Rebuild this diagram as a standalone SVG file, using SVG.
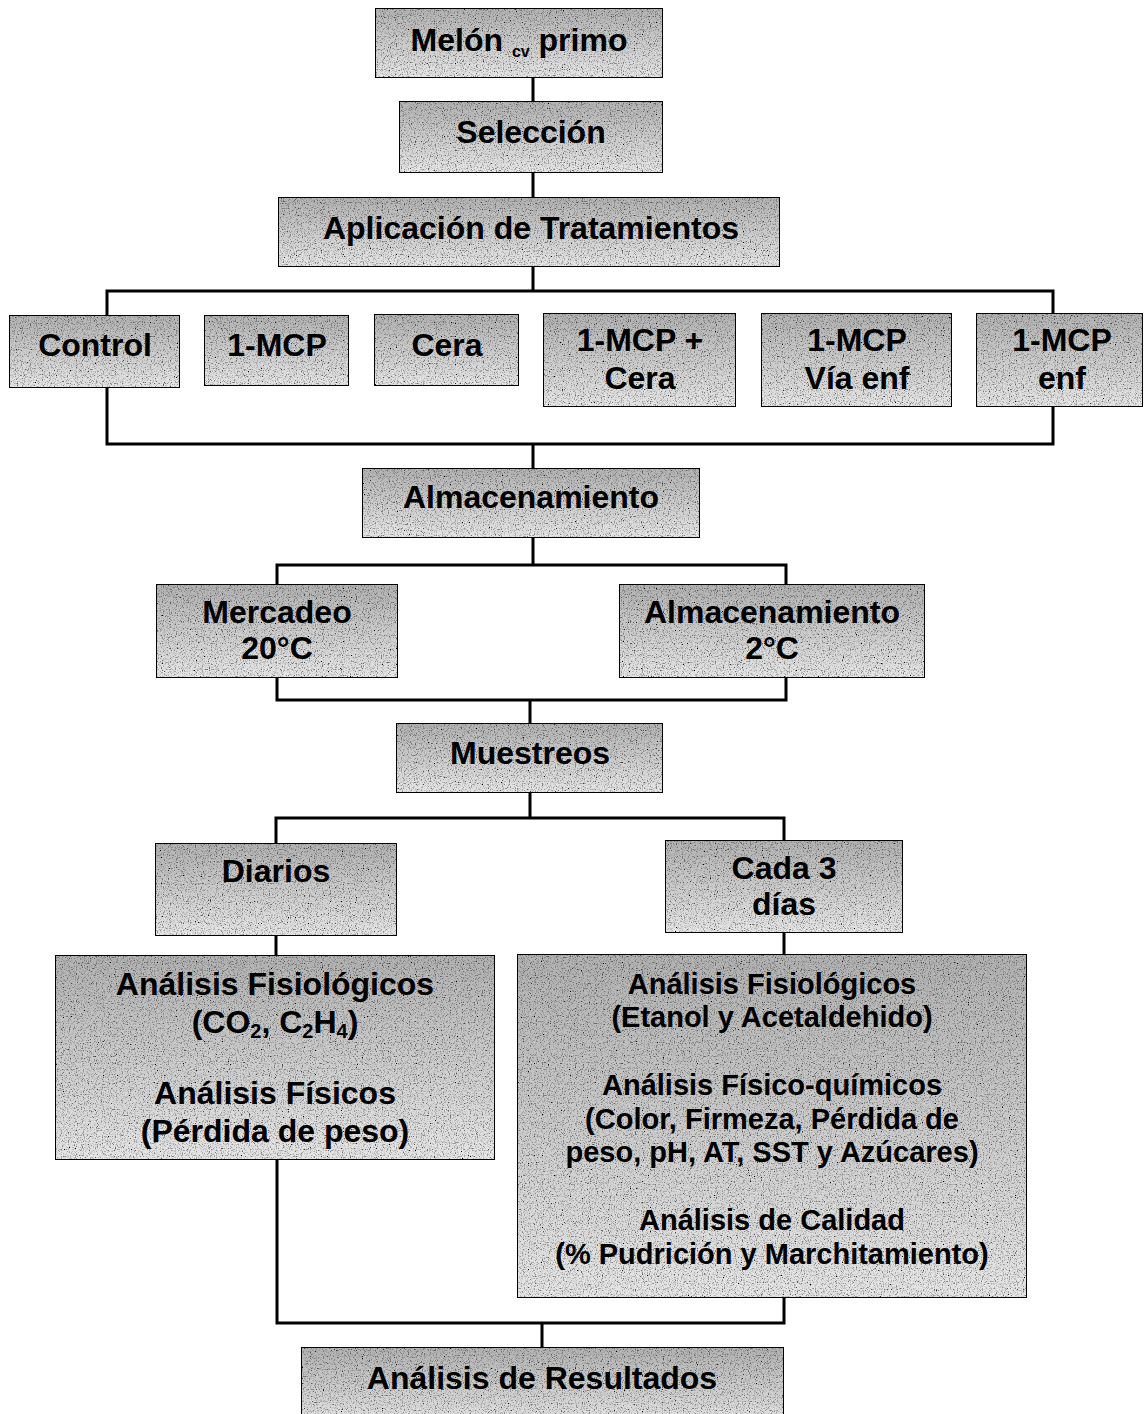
<svg xmlns="http://www.w3.org/2000/svg" width="1145" height="1414" viewBox="0 0 1145 1414">
<defs>
<linearGradient id="g" x1="0" y1="0" x2="0" y2="1">
<stop offset="0" stop-color="#b2b2b2"/>
<stop offset="1" stop-color="#e6e6e6"/>
</linearGradient>
<filter id="grain" x="0" y="0" width="100%" height="100%">
<feTurbulence type="fractalNoise" baseFrequency="0.85" numOctaves="2" seed="4" result="n"/>
<feColorMatrix in="n" type="matrix" values="0 0 0 0 0  0 0 0 0 0  0 0 0 0 0  0 0 0 -3 1.5" result="dots"/>
<feComposite in="dots" in2="SourceGraphic" operator="in" result="d2"/>
<feMerge><feMergeNode in="SourceGraphic"/><feMergeNode in="d2"/></feMerge>
</filter>
</defs>
<style>
.box{fill:url(#g);stroke:#000;stroke-width:2;filter:url(#grain)}
.t{font-family:"Liberation Sans",Arial,sans-serif;font-weight:bold;font-size:32px;fill:#000;text-anchor:middle}
.s{font-size:29px}
.c{fill:none;stroke:#000;stroke-width:3}
</style>
<rect width="1145" height="1414" fill="#fff"/>
<g id="connectors">
<path class="c" d="M533,78V101M533,173V197M533,267V291"/>
<path class="c" d="M107,315V291H1053V313"/>
<path class="c" d="M107,388V444H1053V407M533,444V468"/>
<path class="c" d="M533,538V565M277,584V565H786V584"/>
<path class="c" d="M277,678V700H786V678M530,700V723"/>
<path class="c" d="M530,793V818M276,843V818H784V840"/>
<path class="c" d="M276,936V955M784,933V954"/>
<path class="c" d="M277,1160V1323H784V1298M542,1323V1347"/>
</g>
<g id="n-melon"><rect class="box" x="375" y="8" width="288" height="70"/><text class="t" x="519" y="51">Melón <tspan font-size="16" dy="6">cv</tspan> <tspan dy="-6">primo</tspan></text></g>
<g id="n-seleccion"><rect class="box" x="399" y="101" width="264" height="72"/><text class="t" x="531" y="143">Selección</text></g>
<g id="n-aplicacion"><rect class="box" x="278" y="197" width="502" height="70"/><text class="t" x="531" y="239">Aplicación de Tratamientos</text></g>
<g id="n-control"><rect class="box" x="9" y="315" width="171" height="73"/><text class="t" x="95" y="356">Control</text></g>
<g id="n-1mcp"><rect class="box" x="204" y="315" width="145" height="71"/><text class="t" x="277" y="356">1-MCP</text></g>
<g id="n-cera"><rect class="box" x="374" y="314" width="145" height="72"/><text class="t" x="447" y="356">Cera</text></g>
<g id="n-1mcp-cera"><rect class="box" x="543" y="313" width="193" height="94"/><text class="t" x="640" y="351">1-MCP +</text><text class="t" x="640" y="389">Cera</text></g>
<g id="n-1mcp-via"><rect class="box" x="761" y="313" width="191" height="94"/><text class="t" x="857" y="351">1-MCP</text><text class="t" x="857" y="389">Vía enf</text></g>
<g id="n-1mcp-enf"><rect class="box" x="976" y="313" width="167" height="94"/><text class="t" x="1062" y="351">1-MCP</text><text class="t" x="1062" y="389">enf</text></g>
<g id="n-almacenamiento"><rect class="box" x="362" y="468" width="338" height="70"/><text class="t" x="531" y="508">Almacenamiento</text></g>
<g id="n-mercadeo"><rect class="box" x="156" y="584" width="242" height="94"/><text class="t" x="277" y="623">Mercadeo</text><text class="t" x="277" y="659">20°C</text></g>
<g id="n-alm2"><rect class="box" x="619" y="584" width="306" height="94"/><text class="t" x="772" y="623">Almacenamiento</text><text class="t" x="772" y="659">2°C</text></g>
<g id="n-muestreos"><rect class="box" x="396" y="723" width="267" height="70"/><text class="t" x="530" y="764">Muestreos</text></g>
<g id="n-diarios"><rect class="box" x="155" y="843" width="242" height="93"/><text class="t" x="276" y="882">Diarios</text></g>
<g id="n-cada3"><rect class="box" x="665" y="840" width="238" height="93"/><text class="t" x="784" y="879">Cada 3</text><text class="t" x="784" y="915">días</text></g>
<g id="n-left"><rect class="box" x="55" y="955" width="440" height="205"/>
<text class="t" x="275" y="995">Análisis Fisiológicos</text>
<text class="t" x="275" y="1033">(CO<tspan font-size="20" dy="5">2</tspan><tspan dy="-5">, C</tspan><tspan font-size="20" dy="5">2</tspan><tspan dy="-5">H</tspan><tspan font-size="20" dy="5">4</tspan><tspan dy="-5">)</tspan></text>
<text class="t" x="275" y="1104">Análisis Físicos</text>
<text class="t" x="275" y="1142">(Pérdida de peso)</text></g>
<g id="n-right"><rect class="box" x="517" y="954" width="510" height="344"/>
<text class="t s" x="772" y="994">Análisis Fisiológicos</text>
<text class="t s" x="772" y="1027">(Etanol y Acetaldehido)</text>
<text class="t s" x="772" y="1095">Análisis Físico-químicos</text>
<text class="t s" x="772" y="1129">(Color, Firmeza, Pérdida de</text>
<text class="t s" x="772" y="1162">peso, pH, AT, SST y Azúcares)</text>
<text class="t s" x="772" y="1230">Análisis de Calidad</text>
<text class="t s" x="772" y="1264">(% Pudrición y Marchitamiento)</text></g>
<g id="n-resultados"><rect class="box" x="301" y="1347" width="483" height="80"/><text class="t" x="542" y="1389">Análisis de Resultados</text></g>
</svg>
